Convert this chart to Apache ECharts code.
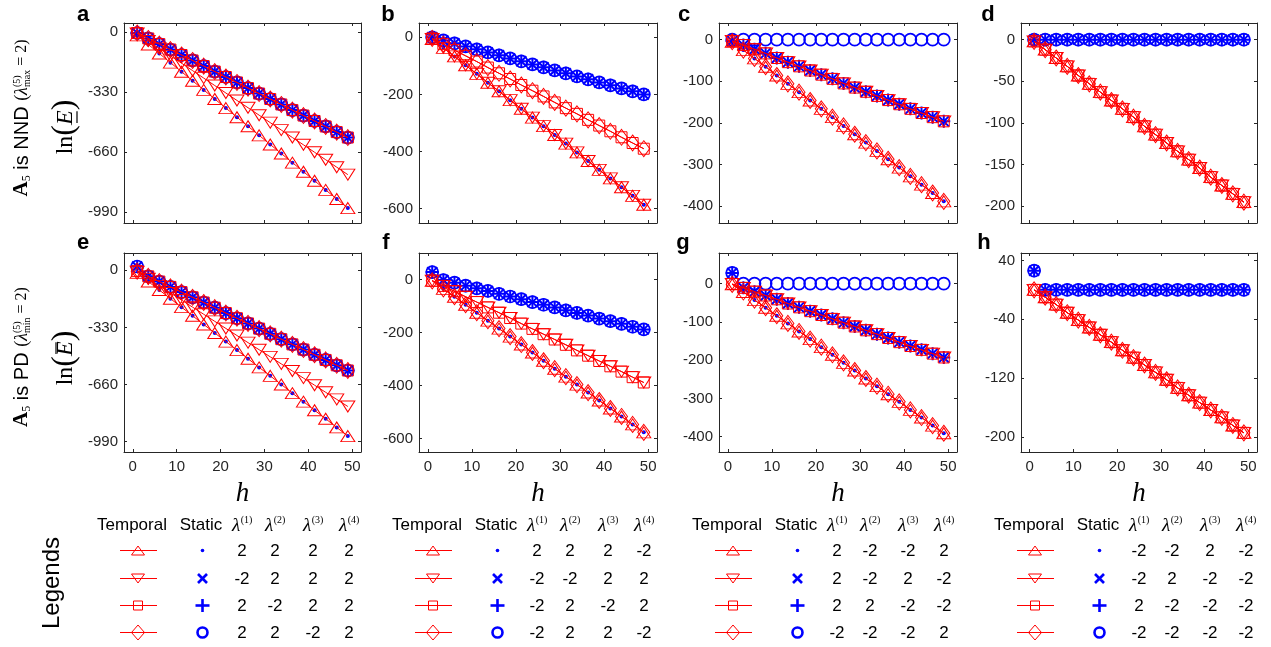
<!DOCTYPE html>
<html><head><meta charset="utf-8">
<script src="https://cdn.jsdelivr.net/npm/echarts@6/dist/echarts.min.js"></script>
<style>html,body{margin:0;padding:0;background:#fff}#c{width:1271px;height:647px}</style>
</head><body><div id="c"></div>
<script>
// ---------------- DATA ----------------
const H = [1, 3.53, 6.05, 8.58, 11.11, 13.63, 16.16, 18.68, 21.21, 23.74, 26.26, 28.79, 31.32, 33.84, 36.37, 38.89, 41.42, 43.95, 46.47, 49];

// panel a (NND)
const aLow = [-18,-68,-118,-168,-218,-268,-318,-368,-418,-468,-518,-568,-618,-668,-718,-768,-818,-868,-918,-968];
const aMid = [-8,-49,-90,-131,-171,-212,-253,-294,-335,-376,-416,-457,-498,-539,-580,-620,-661,-702,-743,-784];
const aTop = [-5,-35,-66,-96,-126,-156,-187,-217,-247,-277,-308,-338,-368,-398,-429,-459,-489,-519,-550,-580];
// panel b
const bLow = [-6,-37,-67,-98,-128,-159,-189,-220,-250,-281,-311,-342,-372,-403,-433,-464,-494,-525,-555,-586];
const bMid = [-4,-24,-45,-65,-85,-106,-126,-146,-167,-187,-207,-228,-248,-268,-289,-309,-329,-350,-370,-390];
const bTop = [0,-11,-21,-32,-42,-53,-63,-74,-84,-95,-105,-116,-126,-137,-147,-158,-168,-179,-189,-200];
// panel c
const cLow = [-5,-25,-45,-65,-86,-106,-126,-146,-166,-186,-207,-227,-247,-267,-287,-307,-328,-348,-368,-388];
const cMid = [-3,-13,-23,-33,-44,-54,-64,-74,-84,-94,-105,-115,-125,-135,-145,-155,-166,-176,-186,-196];
const cZero = [0,0,0,0,0,0,0,0,0,0,0,0,0,0,0,0,0,0,0,0];
// panel d
const dLine = [-2,-12,-22,-32,-43,-53,-63,-73,-83,-93,-104,-114,-124,-134,-144,-154,-165,-175,-185,-195];
const dZero = [0,0,0,0,0,0,0,0,0,0,0,0,0,0,0,0,0,0,0,0];
// panel e (PD)
const eLow = [-15,-65,-114,-164,-213,-263,-313,-362,-412,-461,-511,-561,-610,-660,-710,-759,-809,-858,-908,-958];
const eMid = [-8,-49,-90,-131,-172,-213,-254,-295,-336,-377,-418,-459,-500,-541,-582,-623,-664,-705,-746,-787];
const eTop = [-5,-35,-65,-96,-126,-156,-186,-216,-247,-277,-307,-337,-367,-398,-428,-458,-488,-518,-549,-579];
const eStaticLow = [22,-65,-114,-164,-213,-263,-313,-362,-412,-461,-511,-561,-610,-660,-710,-759,-809,-858,-908,-958];
const eStaticTop = [22,-35,-65,-96,-126,-156,-186,-216,-247,-277,-307,-337,-367,-398,-428,-458,-488,-518,-549,-579];
// panel f
const fLow = [-5,-35,-65,-95,-125,-155,-185,-215,-245,-275,-306,-336,-366,-396,-426,-456,-486,-516,-546,-576];
const fMid = [-4,-24,-44,-65,-85,-105,-125,-145,-166,-186,-206,-226,-246,-267,-287,-307,-327,-347,-368,-388];
const fStaticTop = [28,-2,-12,-23,-33,-43,-54,-64,-74,-85,-95,-105,-116,-126,-136,-147,-157,-167,-178,-188];
const fStaticLow = [28,-35,-65,-95,-125,-155,-185,-215,-245,-275,-306,-336,-366,-396,-426,-456,-486,-516,-546,-576];
// panel g
const gLow = [-2,-22,-43,-63,-84,-104,-125,-145,-166,-186,-207,-227,-248,-268,-289,-309,-330,-350,-371,-391];
const gMid = [-1,-11,-21,-31,-41,-52,-62,-72,-82,-92,-102,-112,-122,-132,-142,-153,-163,-173,-183,-193];
const gStaticLow = [28,-22,-43,-63,-84,-104,-125,-145,-166,-186,-207,-227,-248,-268,-289,-309,-330,-350,-371,-391];
const gStaticMid = [28,-11,-21,-31,-41,-52,-62,-72,-82,-92,-102,-112,-122,-132,-142,-153,-163,-173,-183,-193];
const gStaticZero = [28,0,0,0,0,0,0,0,0,0,0,0,0,0,0,0,0,0,0,0];
// panel h
const hLine = [0,-10,-20,-31,-41,-51,-61,-71,-82,-92,-102,-112,-122,-133,-143,-153,-163,-173,-184,-194];
const hStatic = [26,0,0,0,0,0,0,0,0,0,0,0,0,0,0,0,0,0,0,0];

// which curve each series follows, per panel
const PANEL_SERIES = [
  {up:aLow, down:aMid, sq:aTop, dia:aTop, dot:aLow, x:aTop, plus:aTop, o:aTop},
  {up:bLow, down:bLow, sq:bMid, dia:bMid, dot:bLow, x:bTop, plus:bTop, o:bTop},
  {up:cLow, down:cMid, sq:cMid, dia:cLow, dot:cLow, x:cMid, plus:cMid, o:cZero},
  {up:dLine, down:dLine, sq:dLine, dia:dLine, dot:dZero, x:dZero, plus:dZero, o:dZero},
  {up:eLow, down:eMid, sq:eTop, dia:eTop, dot:eStaticLow, x:eStaticTop, plus:eStaticTop, o:eStaticTop},
  {up:fLow, down:fMid, sq:fMid, dia:fLow, dot:fStaticLow, x:fStaticTop, plus:fStaticTop, o:fStaticTop},
  {up:gLow, down:gMid, sq:gMid, dia:gLow, dot:gStaticLow, x:gStaticMid, plus:gStaticMid, o:gStaticZero},
  {up:hLine, down:hLine, sq:hLine, dia:hLine, dot:hStatic, x:hStatic, plus:hStatic, o:hStatic}
];

const PANEL_LETTERS = ['a','b','c','d','e','f','g','h'];
const X_TICKS = [0,10,20,30,40,50];
const Y_TICKS = [
  [-990,-660,-330,0], [-600,-400,-200,0], [-400,-300,-200,-100,0], [-200,-150,-100,-50,0],
  [-990,-660,-330,0], [-600,-400,-200,0], [-400,-300,-200,-100,0], [-200,-120,-40,40]
];
const Y_RANGE = [[-1050,50],[-650,50],[-440,40],[-220,20],[-1050,100],[-650,100],[-440,80],[-220,50]];
const X_RANGE = [-2, 52];

const LEGEND_HEAD = ['Temporal','Static','(1)','(2)','(3)','(4)'];
const LEGEND_VALUES = [
  [[2,2,2,2],[-2,2,2,2],[2,-2,2,2],[2,2,-2,2]],
  [[2,2,2,-2],[-2,-2,2,2],[-2,2,-2,2],[-2,2,2,-2]],
  [[2,-2,-2,2],[2,-2,2,-2],[2,2,-2,-2],[-2,-2,-2,2]],
  [[-2,-2,2,-2],[-2,2,-2,-2],[2,-2,-2,-2],[-2,-2,-2,-2]]
];

// ---------------- LAYOUT / STYLE ----------------
const GRIDS = [[124,23,237,200],[419,23,238,200],[719,23,238,200],[1021,23,236,200],
               [124,253,237,199],[419,253,238,199],[719,253,238,199],[1021,253,236,199]];
const LETTER_POS = [[83,14.5],[388,14.5],[684,14.5],[988,14.5],[83,242.5],[386,242.5],[683,242.5],[984,242.5]];
const RED = '#ff0000', BLUE = '#0000ff', AX = '#262626';
const SANS = '"Liberation Sans", Arial, sans-serif';
const SERIF = '"Liberation Serif", "Times New Roman", serif';

const TEMPORAL = [
  {key:'up', symbol:'triangle', size:[14,11], rotate:0},
  {key:'down', symbol:'triangle', size:[14,11], rotate:180},
  {key:'sq', symbol:'rect', size:[11,11], rotate:0},
  {key:'dia', symbol:'diamond', size:[12,16], rotate:0}
];
const STATIC = [
  {key:'dot', symbol:'circle', size:4, fill:BLUE, lw:0},
  {key:'x', symbol:'path://M0,0L10,10M10,0L0,10', size:10, fill:'rgba(0,0,0,0)', lw:2},
  {key:'plus', symbol:'path://M5,0L5,10M0,5L10,5', size:13, fill:'rgba(0,0,0,0)', lw:2},
  {key:'o', symbol:'circle', size:12, fill:'rgba(0,0,0,0)', lw:1.7}
];

const grid = [], xAxis = [], yAxis = [], series = [];
GRIDS.forEach((g, gi) => {
  grid.push({left:g[0], top:g[1], width:g[2], height:g[3], containLabel:false});
  const bottomRow = gi >= 4;
  const lineStyle = {color:AX, width:1};
  const base = {gridIndex:gi, type:'value', min:X_RANGE[0], max:X_RANGE[1], splitLine:{show:false},
    axisLine:{onZero:false, lineStyle}, axisTick:{inside:true, length:3, customValues:X_TICKS, lineStyle}};
  xAxis.push(Object.assign({}, base, {position:'bottom',
    axisLabel:{show:bottomRow, customValues:X_TICKS, fontSize:15, color:AX, fontFamily:SANS, margin:7},
    name: bottomRow ? 'h' : '', nameLocation:'middle', nameGap:28,
    nameTextStyle:{fontFamily:SERIF, fontStyle:'italic', fontSize:27, color:'#000'}}));
  xAxis.push(Object.assign({}, base, {position:'top', axisLabel:{show:false}}));
  const ybase = {gridIndex:gi, type:'value', min:Y_RANGE[gi][0], max:Y_RANGE[gi][1], splitLine:{show:false},
    axisLine:{onZero:false, lineStyle}, axisTick:{inside:true, length:3, customValues:Y_TICKS[gi], lineStyle}};
  yAxis.push(Object.assign({}, ybase, {position:'left',
    axisLabel:{customValues:Y_TICKS[gi], fontSize:15, color:AX, fontFamily:SANS, margin:6}}));
  yAxis.push(Object.assign({}, ybase, {position:'right', axisLabel:{show:false}}));

  const ps = PANEL_SERIES[gi];
  STATIC.forEach(s => {
    series.push({type:'scatter', xAxisIndex:2*gi, yAxisIndex:2*gi, silent:true, z:2,
      symbol:s.symbol, symbolSize:s.size,
      itemStyle:{color:s.fill, borderColor:BLUE, borderWidth:s.lw, opacity:1},
      data: H.map((h,i)=>[h, ps[s.key][i]])});
  });
  TEMPORAL.forEach(t => {
    series.push({type:'line', xAxisIndex:2*gi, yAxisIndex:2*gi, silent:true, z:3,
      symbol:t.symbol, symbolSize:t.size, symbolRotate:t.rotate, showAllSymbol:true,
      lineStyle:{color:RED, width:1},
      itemStyle:{color:'rgba(0,0,0,0)', borderColor:RED, borderWidth:1},
      data: H.map((h,i)=>[h, ps[t.key][i]])});
  });
});

// ---------------- GRAPHICS: labels & legend tables ----------------
const mctx = document.createElement('canvas').getContext('2d');
function tw(text, font){ mctx.font = font; return mctx.measureText(text).width; }
function txt(text, x, y, font, align, fill){
  return {type:'text', silent:true, style:{text, x, y, font, fill:fill||'#000',
    textAlign:align||'center', textVerticalAlign:'middle', align:align||'center', verticalAlign:'middle'}};
}
function mathLabel(frags, cx, cy){
  let x = 0; const pos = [];
  frags.forEach(fr => {
    let w;
    if (fr.sup !== undefined) w = Math.max(tw(fr.sup, fr.font), tw(fr.sub, fr.font));
    else w = tw(fr.t, fr.font);
    pos.push({fr, x, w}); x += w;
  });
  const off = -x/2, kids = [];
  pos.forEach(p => {
    const fr = p.fr, px = p.x + off;
    if (fr.sup !== undefined) {
      kids.push(txt(fr.sup, px, fr.supDy, fr.font, 'left'));
      kids.push(txt(fr.sub, px, fr.subDy, fr.font, 'left'));
    } else kids.push(txt(fr.t, px, fr.dy||0, fr.font, 'left'));
    if (fr.bar !== undefined) kids.push({type:'line', silent:true,
      shape:{x1:px+2, x2:px+p.w-1, y1:fr.bar, y2:fr.bar}, style:{stroke:'#000', lineWidth:1.2}});
  });
  return {type:'group', x:cx, y:cy, rotation:Math.PI/2, silent:true, children:kids};
}
const elements = [];
function rowLabel(kind, cy){
  return mathLabel([
    {t:'A', font:'bold 21px '+SERIF},
    {t:'5', font:'12px '+SERIF, dy:5},
    {t:' is '+kind+' ', font:'20px '+SANS},
    {t:'(', font:'18px '+SERIF},
    {t:'λ', font:'italic 18px '+SERIF},
    {sup:'(5)', sub: kind==='NND' ? 'max' : 'min', font:'10px '+SERIF, supDy:-5, subDy:5},
    {t:' = 2)', font:'16px '+SERIF}
  ], 22, cy);
}
elements.push(rowLabel('NND', 118));
elements.push(rowLabel('PD', 357));
elements.push(mathLabel([
  {t:'ln', font:'24px '+SERIF}, {t:'(', font:'32px '+SERIF, dy:-1},
  {t:'E', font:'italic 24px '+SERIF, bar:11}, {t:')', font:'32px '+SERIF, dy:-1}], 66, 127));
elements.push(mathLabel([
  {t:'ln', font:'24px '+SERIF}, {t:'(', font:'32px '+SERIF, dy:-1},
  {t:'E', font:'italic 24px '+SERIF, bar:-10}, {t:')', font:'32px '+SERIF, dy:-1}], 66, 358));
elements.push({type:'group', x:52, y:583, rotation:Math.PI/2, silent:true,
  children:[txt('Legends', 0, 0, '24px '+SANS)]});

PANEL_LETTERS.forEach((l, i) => elements.push(txt(l, LETTER_POS[i][0], LETTER_POS[i][1], 'bold 22px '+SANS)));

function mathLabelFlat(cx, cy, sup){
  const f1 = 'italic 19px '+SERIF, f2 = '10px '+SERIF;
  const w1 = tw('λ', f1), w2 = tw(sup, f2), x0 = cx - (w1+w2)/2;
  return {type:'group', silent:true, children:[
    txt('λ', x0, cy+1, f1, 'left'), txt(sup, x0+w1+0.5, cy-5, f2, 'left')]};
}

// legend tables
const HEAD_Y = 525, ROW_Y = [550.5, 578.5, 605.5, 632.5];
const LAM_X = [118, 151, 189, 225];
for (let c = 0; c < 4; c++) {
  const L = GRIDS[c][0];
  const hf = '17px '+SANS;
  elements.push(txt(LEGEND_HEAD[0], L+8, HEAD_Y, hf));
  elements.push(txt(LEGEND_HEAD[1], L+77, HEAD_Y, hf));
  for (let k = 0; k < 4; k++) elements.push(mathLabelFlat(L+LAM_X[k], HEAD_Y, LEGEND_HEAD[2+k]));
  for (let r = 0; r < 4; r++) {
    const y = ROW_Y[r], mx = L+14, sx = L+78.5;
    elements.push({type:'line', silent:true, shape:{x1:L-4, y1:y, x2:L+33, y2:y}, style:{stroke:RED, lineWidth:1}});
    let shape;
    if (r === 0) shape = {type:'polygon', shape:{points:[[mx-6.5,y+4.5],[mx+6.5,y+4.5],[mx,y-4.5]]}};
    else if (r === 1) shape = {type:'polygon', shape:{points:[[mx-6.5,y-4.5],[mx+6.5,y-4.5],[mx,y+4.5]]}};
    else if (r === 2) shape = {type:'rect', shape:{x:mx-4.5, y:y-4.5, width:9, height:9}};
    else shape = {type:'polygon', shape:{points:[[mx,y-7.5],[mx+6.5,y],[mx,y+7.5],[mx-6.5,y]]}};
    shape.silent = true; shape.style = {fill:'none', stroke:RED, lineWidth:1};
    elements.push(shape);
    if (r === 0) elements.push({type:'circle', silent:true, shape:{cx:sx, cy:y, r:1.8}, style:{fill:BLUE}});
    else if (r === 1) {
      elements.push({type:'line', silent:true, shape:{x1:sx-4.5,y1:y-4.5,x2:sx+4.5,y2:y+4.5}, style:{stroke:BLUE, lineWidth:2.6}});
      elements.push({type:'line', silent:true, shape:{x1:sx-4.5,y1:y+4.5,x2:sx+4.5,y2:y-4.5}, style:{stroke:BLUE, lineWidth:2.6}});
    } else if (r === 2) {
      elements.push({type:'line', silent:true, shape:{x1:sx-7,y1:y,x2:sx+7,y2:y}, style:{stroke:BLUE, lineWidth:2.6}});
      elements.push({type:'line', silent:true, shape:{x1:sx,y1:y-6.5,x2:sx,y2:y+6.5}, style:{stroke:BLUE, lineWidth:2.6}});
    } else elements.push({type:'circle', silent:true, shape:{cx:sx, cy:y, r:5}, style:{fill:'none', stroke:BLUE, lineWidth:2.6}});
    for (let k = 0; k < 4; k++) elements.push(txt(String(LEGEND_VALUES[c][r][k]), L+LAM_X[k], y+0.5, hf));
  }
}

const chart = echarts.init(document.getElementById('c'), null, {renderer:'canvas', width:1271, height:647});
chart.setOption({
  animation:false, backgroundColor:'#fff',
  grid, xAxis, yAxis, series,
  graphic:{elements}
});
</script></body></html>
